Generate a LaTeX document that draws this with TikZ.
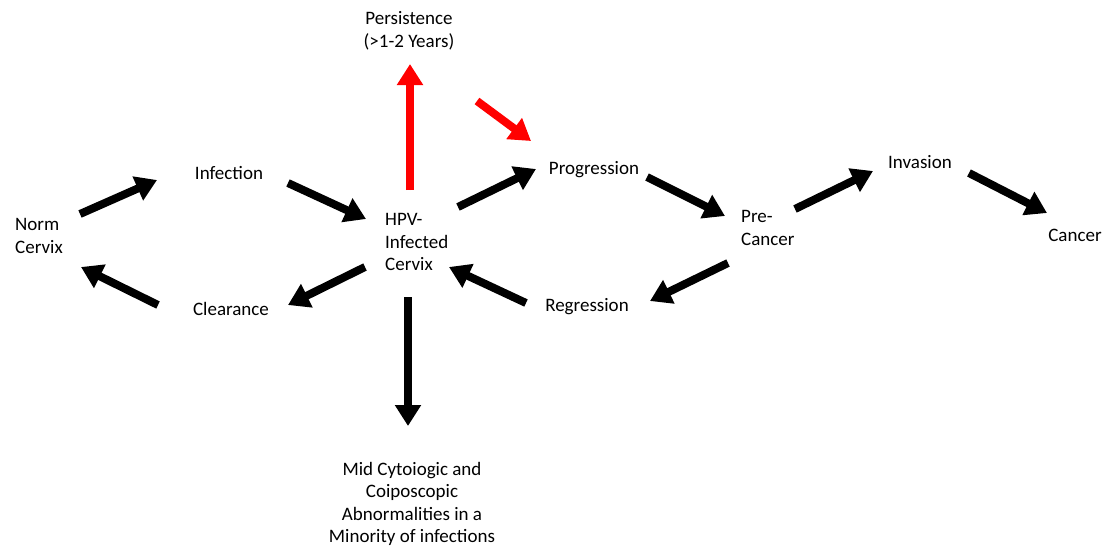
\documentclass[tikz,border=0pt]{standalone}
\usepackage{fontspec}
\setmainfont{Carlito}
\usetikzlibrary{arrows.meta}

\begin{document}
\begin{tikzpicture}
[x=1pt,y=-1pt,>={Triangle[length=21pt,width=25pt]},
 txt/.style={font=\fontsize{19}{22.5}\selectfont,inner sep=0pt,align=center},
 arr/.style={line width=8pt,->},
 redarr/.style={arr,draw=red,fill=red}]

\useasboundingbox (0,0) rectangle (1104,550);

% the stages
\node[txt] (pers) at (409,31) {Persistence\\(>1-2 Years)};
\node[txt] (inf) at (229,173) {Infection};
\node[txt,align=left,anchor=west] (norm) at (15,236) {Norm\\Cervix};
\node[txt] (clear) at (231,309) {Clearance};
\node[txt,align=left,anchor=west] (hpv) at (385,242) {HPV-\\Infected\\Cervix};
\node[txt] (prog) at (594,170) {Progression};
\node[txt,align=left,anchor=west] (pre) at (741,228) {Pre-\\Cancer};
\node[txt] (inv) at (920,162) {Invasion};
\node[txt] (canc) at (1075,235) {Cancer};
\node[txt] (regr) at (587,307) {Regression};
\node[txt] (mid) at (412,504) {Mid Cytoiogic and\\Coiposcopic\\Abnormalities in a\\Minority of infections};

% the ends of the arrows
\coordinate (a1) at (80,214);   \coordinate (b1) at (157,180);
\coordinate (a2) at (288,183);  \coordinate (b2) at (366,219);
\coordinate (a3) at (365,267);  \coordinate (b3) at (288,305);
\coordinate (a4) at (158,305);  \coordinate (b4) at (81,267);
\coordinate (a5) at (410,190);  \coordinate (b5) at (410,64);
\coordinate (a6) at (477,101);  \coordinate (b6) at (531,141);
\coordinate (a7) at (458,207);  \coordinate (b7) at (536,169);
\coordinate (a8) at (647,177);  \coordinate (b8) at (725,216);
\coordinate (a9) at (526,303);  \coordinate (b9) at (449,267);
\coordinate (a10) at (728,263); \coordinate (b10) at (650,301);
\coordinate (a11) at (795,209); \coordinate (b11) at (873,171);
\coordinate (a12) at (969,173); \coordinate (b12) at (1047,213);
\coordinate (a13) at (408,297); \coordinate (b13) at (408,426);

% the arrows
\foreach \i in {1,2,3,4,7,8,9,10,11,12,13}
  \draw[arr] (a\i) -- (b\i);
\draw[redarr] (a5) -- (b5);
\draw[redarr] (a6) -- (b6);

\end{tikzpicture}
\end{document}
